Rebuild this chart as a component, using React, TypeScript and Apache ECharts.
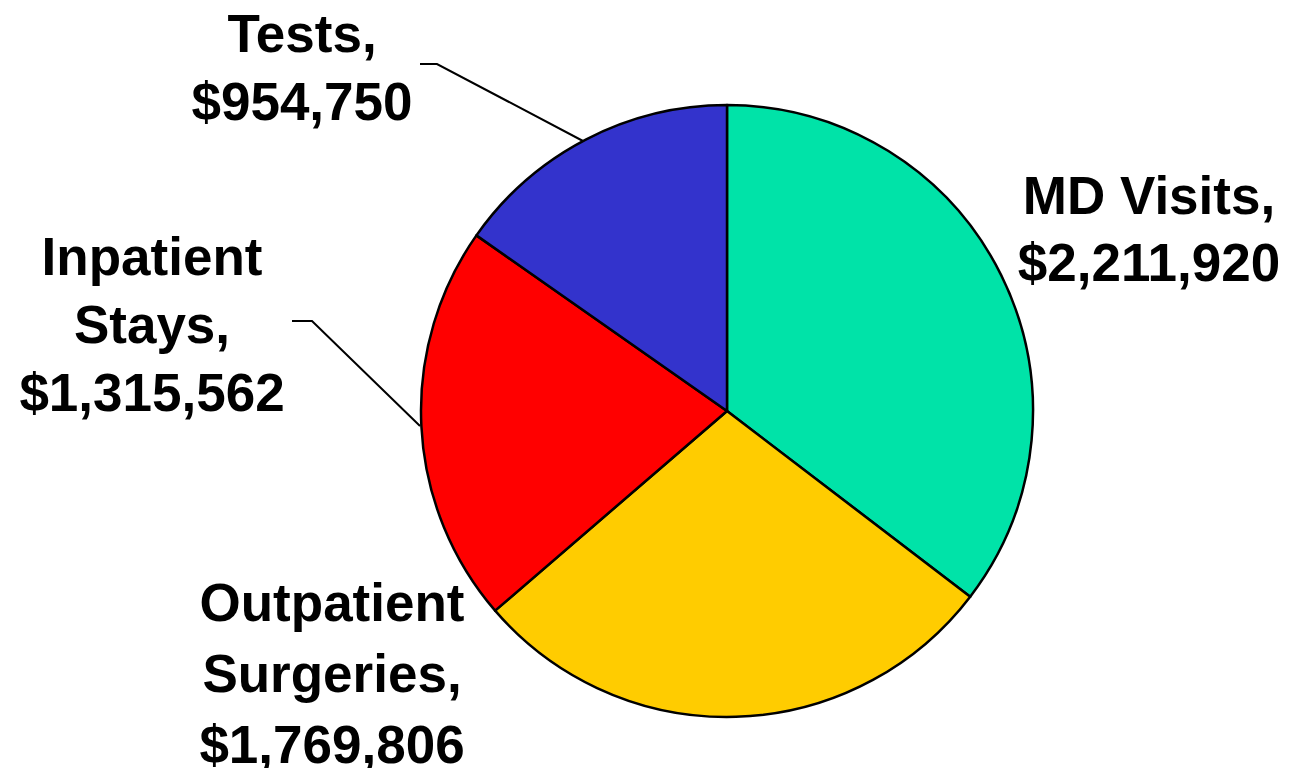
import React, { useEffect, useRef } from "react";
import * as echarts from "echarts";

const categories = ["MD Visits", "Outpatient Surgeries", "Inpatient Stays", "Tests"];
const labelNames = ["MD Visits", "Outpatient\nSurgeries", "Inpatient\nStays", "Tests"];
const values = [2211920, 1769806, 1315562, 954750];
const colors = ["#00E3A8", "#FFCC00", "#FF0000", "#3333CC"];

// label placement (centre of each label block) and leader lines
const labelPos: number[][] = [
  [1149, 229],
  [332, 673],
  [152, 324],
  [302, 67],
];
const lineHeights = [67, 71, 68, 68];
const leaderPoints: (number[][] | null)[] = [
  null,
  null,
  [[420, 426], [312, 321], [292, 321]],
  [[583, 141], [437, 64], [420, 64]],
];

export default function App() {
  const ref = useRef<HTMLDivElement>(null);
  useEffect(() => {
    if (!ref.current) return;
    const chart = echarts.init(ref.current, undefined, { renderer: "svg" });
    chart.setOption({
      animation: false,
      backgroundColor: "#ffffff",
      series: [
        {
          type: "pie",
          center: [727, 411],
          radius: 306,
          startAngle: 90,
          clockwise: true,
          avoidLabelOverlap: false,
          itemStyle: { borderColor: "#000000", borderWidth: 2.5 },
          label: {
            show: true,
            position: "outside",
            fontFamily: "'Liberation Sans', Arial, sans-serif",
            fontWeight: "bold",
            fontSize: 53,
            color: "#000000",
            align: "center",
            formatter: (p: any) =>
              `${labelNames[p.dataIndex]},\n$${Number(p.value).toLocaleString("en-US")}`,
          },
          labelLine: {
            show: true,
            lineStyle: { color: "#000000", width: 2 },
          },
          labelLayout: (params: any) => {
            const i = params.dataIndex;
            const res: any = {
              x: labelPos[i][0],
              y: labelPos[i][1],
              align: "center",
              verticalAlign: "middle",
            };
            if (leaderPoints[i]) res.labelLinePoints = leaderPoints[i];
            return res;
          },
          data: categories.map((name, i) => ({
            name,
            value: values[i],
            itemStyle: { color: colors[i] },
            label: { lineHeight: lineHeights[i] },
            labelLine: { show: leaderPoints[i] !== null },
          })),
        },
      ],
    });
    return () => chart.dispose();
  }, []);
  return (
    <div
      ref={ref}
      style={{ position: "fixed", left: 0, top: 0, width: 1289, height: 768, background: "#fff" }}
    />
  );
}
